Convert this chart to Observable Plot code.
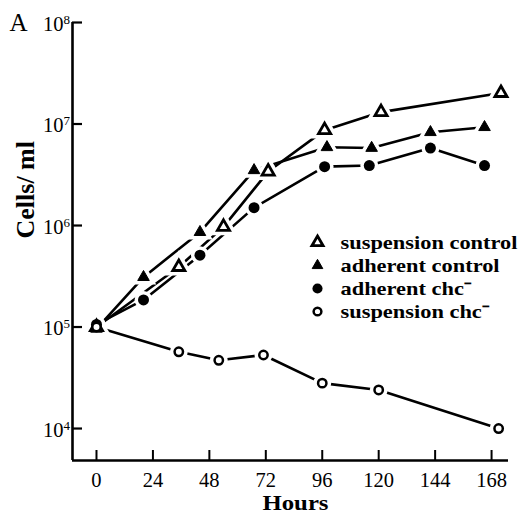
<!DOCTYPE html>
<html><head><meta charset="utf-8">
<script src="https://cdn.jsdelivr.net/npm/d3@7"></script>
<script src="https://cdn.jsdelivr.net/npm/@observablehq/plot@0.6"></script>
<style>
body{margin:0;background:#fff;}
</style></head><body><div id="wrap"></div>
<script>
// ---- data ----
const suspControlHours = [0, 35, 54, 73, 97, 121, 172];
const suspControlCells = [1.0e5, 3.9e5, 9.7e5, 3.4e6, 8.7e6, 1.31e7, 2.02e7];
const adhControlHours  = [0, 20, 44, 67, 98, 117, 142, 165];
const adhControlCells  = [0.96e5, 3.1e5, 8.6e5, 3.5e6, 5.9e6, 5.8e6, 8.3e6, 9.3e6];
const adhChcHours      = [0, 20, 44, 67, 97, 116, 142, 165];
const adhChcCells      = [1.06e5, 1.85e5, 5.1e5, 1.5e6, 3.8e6, 3.9e6, 5.8e6, 3.9e6];
const suspChcHours     = [0, 35, 52, 71, 96, 120, 171];
const suspChcCells     = [1.0e5, 5.7e4, 4.7e4, 5.3e4, 2.8e4, 2.4e4, 1.0e4];
const seriesNames = ["suspension control", "adherent control", "adherent chc\u207B", "suspension chc\u207B"];
const xTicks = [0, 24, 48, 72, 96, 120, 144, 168];
const yExponents = [4, 5, 6, 7, 8];
const panelLabel = "A";
const xTitle = "Hours";
const yTitle = "Cells/ ml";

// ---- layout ----
const W = 519, H = 514, mL = 72, mR = 11, mT = 22, mB = 54;
const frameW = W - mL - mR, frameH = H - mT - mB;
const xDomain = [-10.2, 175.2];
const yDomain = [Math.pow(10, 3.685), 1e8];
const font = "Liberation Serif, Times New Roman, serif";

const series = [
  {name: seriesNames[0], hours: suspControlHours, cells: suspControlCells, symbol: "triangle", r: 4.5, fill: "white", sw: 2.8},
  {name: seriesNames[1], hours: adhControlHours, cells: adhControlCells, symbol: "triangle", r: 4.3, fill: "black", sw: 1},
  {name: seriesNames[2], hours: adhChcHours, cells: adhChcCells, symbol: "circle", r: 5.5, fill: "black", sw: 0},
  {name: seriesNames[3], hours: suspChcHours, cells: suspChcCells, symbol: "circle", r: 4.2, fill: "white", sw: 2.5}
].map(s => ({...s, pts: s.hours.map((t, i) => ({t, v: s.cells[i]}))}));

const marks = [];
// axes lines
marks.push(Plot.ruleX([xDomain[0]], {strokeWidth: 2.6}));
marks.push(Plot.ruleY([yDomain[0]], {strokeWidth: 2.6}));
// inward ticks
marks.push(Plot.tickY(yExponents.map(e => Math.pow(10, e)), {y: d => d, insetRight: frameW - 10, strokeWidth: 2.2}));
marks.push(Plot.tickX(xTicks, {x: d => d, insetTop: frameH - 10, strokeWidth: 2}));
// y tick labels 10^n
marks.push(Plot.text(yExponents, {y: e => Math.pow(10, e), text: () => "10", frameAnchor: "left", textAnchor: "end", lineAnchor: "bottom", dx: -9, dy: 8, fontSize: 20.5}));
marks.push(Plot.text(yExponents, {y: e => Math.pow(10, e), text: e => String(e), frameAnchor: "left", textAnchor: "start", lineAnchor: "bottom", dx: -9, dy: 1, fontSize: 13}));
// x tick labels
marks.push(Plot.text(xTicks, {x: d => d, text: d => String(d), frameAnchor: "bottom", lineAnchor: "bottom", dy: 26, fontSize: 20.5}));
// titles
marks.push(Plot.text([xTitle], {text: d => d, frameAnchor: "bottom", lineAnchor: "bottom", dx: 5, dy: 49, fontSize: 21.5, fontWeight: "bold"}));
marks.push(Plot.text([yTitle], {text: d => d, frameAnchor: "left", rotate: -90, lineAnchor: "bottom", dx: -39, dy: -3, fontSize: 26, fontWeight: "bold"}));
marks.push(Plot.text([panelLabel], {text: d => d, frameAnchor: "top-left", textAnchor: "start", lineAnchor: "bottom", dx: -63, dy: 8, fontSize: 25}));

// series lines
for (const s of series) {
  marks.push(Plot.line(s.pts, {x: "t", y: "v", stroke: "black", strokeWidth: 2.6}));
}
// white halos to open gaps around markers
for (const s of series) {
  marks.push(Plot.dot(s.pts, {x: "t", y: "v", symbol: s.symbol, r: s.r, fill: "white", stroke: "white", strokeWidth: s.sw + 7}));
}
// markers
for (const s of series) {
  marks.push(Plot.dot(s.pts, {x: "t", y: "v", symbol: s.symbol, r: s.r, fill: s.fill, stroke: "black", strokeWidth: s.sw}));
}
// legend
const legendRowsY = [242, 265, 288, 311];
series.forEach((s, i) => {
  marks.push(Plot.dot([s.name], {frameAnchor: "top-left", dx: 317 - mL, dy: legendRowsY[i] - mT, symbol: s.symbol, r: s.r * 0.92, fill: s.fill, stroke: "black", strokeWidth: s.sw}));
  marks.push(Plot.text([s.name], {text: d => d, frameAnchor: "top-left", textAnchor: "start", lineAnchor: "bottom", dx: 340 - mL, dy: legendRowsY[i] - mT + 6, fontSize: 19.5, fontWeight: "bold"}));
});

const chart = Plot.plot({
  width: W, height: H,
  marginLeft: mL, marginRight: mR, marginTop: mT, marginBottom: mB,
  x: {domain: xDomain, axis: null},
  y: {type: "log", domain: yDomain, axis: null},
  style: {fontFamily: font, background: "white", color: "black", overflow: "visible"},
  marks
});
document.getElementById("wrap").appendChild(chart);

// stretch legend labels and the x title horizontally to the reference's wider typeface
const texts = d3.select(chart).selectAll("text");
const legendTexts = texts.filter(function () { return seriesNames.includes(this.textContent); });
const first = legendTexts.filter(function () { return this.textContent === seriesNames[0]; }).node();
if (first) {
  const k = 177 / first.getComputedTextLength();
  legendTexts.each(function () {
    const len = this.getComputedTextLength();
    d3.select(this).attr("textLength", len * k).attr("lengthAdjust", "spacingAndGlyphs");
  });
}
texts.filter(function () { return this.textContent === xTitle; })
  .attr("textLength", 66).attr("lengthAdjust", "spacingAndGlyphs");
</script></body></html>
